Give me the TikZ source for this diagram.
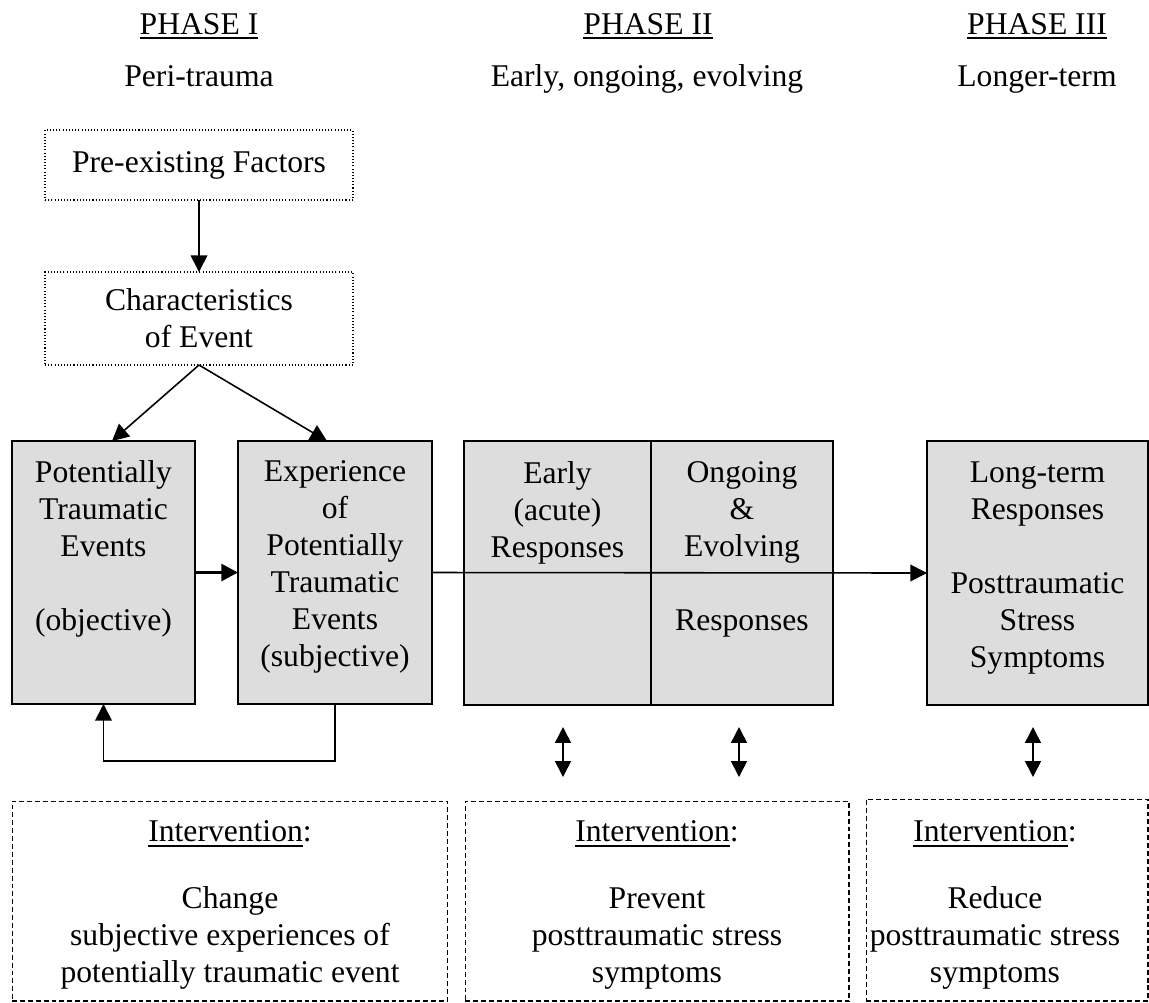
\documentclass[tikz,border=0pt]{standalone}
\usepackage{fontspec}
\setmainfont{Liberation Serif}
\usetikzlibrary{arrows.meta}
\definecolor{boxgrey}{HTML}{DDDDDD}
\newcommand{\undl}[1]{\leavevmode\sbox0{#1}\rlap{\rule[-2.6pt]{\wd0}{1pt}}\usebox0}

\begin{document}
\begin{tikzpicture}[x=0.02cm, y=-0.02cm,
  every node/.style={font=\fontsize{18}{21}\selectfont, inner sep=0pt, outer sep=0pt},
  txt/.style={align=center},
  greybox/.style={draw, line width=0.8pt, fill=boxgrey},
  dotbox/.style={draw, line width=0.7pt, dash pattern=on 0.6pt off 1.2pt},
  dashbox/.style={draw, line width=0.6pt, dash pattern=on 2.8pt off 1.7pt},
  arr/.style={-{Triangle[length=9.5pt,width=9.5pt]}, line width=0.9pt},
  dbl/.style={{Triangle[length=9pt,width=9pt]}-{Triangle[length=9pt,width=9pt]}, line width=0.9pt}]
\useasboundingbox (0,0) rectangle (1149,1002);

\node[anchor=base] (ph1) at (199,34) {\undl{PHASE I}};
\node[anchor=base] (ph2) at (648,34) {\undl{PHASE II}};
\node[anchor=base] (ph3) at (1037,34) {\undl{PHASE III}};
\node[anchor=base] (sub1) at (199,86) {Peri-trauma};
\node[anchor=base] (sub2) at (647,86) {Early, ongoing, evolving};
\node[anchor=base] (sub3) at (1037,86) {Longer-term};

\node[dotbox, minimum width=6.16cm, minimum height=1.4cm] (pre) at (199,165) {Pre-existing Factors};
\node[dotbox, txt, minimum width=6.16cm, minimum height=1.86cm] (chars) at (199,318.5) {Characteristics\\of Event};

\node[greybox, minimum width=3.66cm, minimum height=5.26cm] (pte) at (103.5,572.5) {};
\node[greybox, minimum width=3.88cm, minimum height=5.26cm] (expte) at (335,572.5) {};
\node[greybox, minimum width=3.74cm, minimum height=5.28cm] (early) at (557.5,573) {};
\node[greybox, minimum width=3.64cm, minimum height=5.28cm] (ongoing) at (742,573) {};
\node[greybox, minimum width=4.42cm, minimum height=5.28cm] (longterm) at (1037.5,573) {};

\node[txt, anchor=north] (ptetxt) at (103.5,461) {Potentially\\Traumatic\\Events\\[21pt](objective)};
\node[txt, anchor=north] (exptxt) at (335,461) {Experience\\of\\Potentially\\Traumatic\\Events\\(subjective)};
\node[txt, anchor=north] (earlytxt) at (557.5,462) {Early\\(acute)\\Responses};
\node[txt, anchor=north] (ongoingtxt) at (742,462) {Ongoing\\\&\\Evolving\\[21pt]Responses};
\node[txt, anchor=north] (longtxt) at (1037.5,462) {Long-term\\Responses\\[21pt]Posttraumatic\\Stress\\Symptoms};

\node[dashbox, minimum width=8.72cm, minimum height=4cm] (int1) at (230,901) {};
\node[dashbox, minimum width=7.68cm, minimum height=4cm] (int2) at (657,901) {};
\node[dashbox, minimum width=5.64cm, minimum height=4.04cm] (int3) at (1007,900) {};
\node[txt, anchor=north] (int1txt) at (230,821) {\undl{Intervention}:\\[17pt]Change\\subjective experiences of\\potentially traumatic event};
\node[txt, anchor=north] (int2txt) at (657,821) {\undl{Intervention}:\\[17pt]Prevent\\posttraumatic stress\\symptoms};
\node[txt, anchor=north] (int3txt) at (995,821) {\undl{Intervention}:\\[17pt]Reduce\\posttraumatic stress\\symptoms};

\draw[arr] (pre) -- (chars);
\draw[arr] (chars.south) -- ([xshift=0.17cm]pte.north);
\draw[arr] (chars.south) -- ([xshift=-0.16cm]expte.north);
\draw[arr, line width=2pt] (pte) -- (expte);
\draw[arr] (expte.south) -- ++(0,57) -| (pte.south);
\draw[arr] (expte.east) -- (longterm.west);

\coordinate (d1a) at (563,727);
\coordinate (d1b) at (563,777);
\coordinate (d2a) at (739,727);
\coordinate (d2b) at (739,777);
\coordinate (d3a) at (1033,727);
\coordinate (d3b) at (1033,777);
\draw[dbl] (d1a) -- (d1b);
\draw[dbl] (d2a) -- (d2b);
\draw[dbl] (d3a) -- (d3b);
\end{tikzpicture}
\end{document}
